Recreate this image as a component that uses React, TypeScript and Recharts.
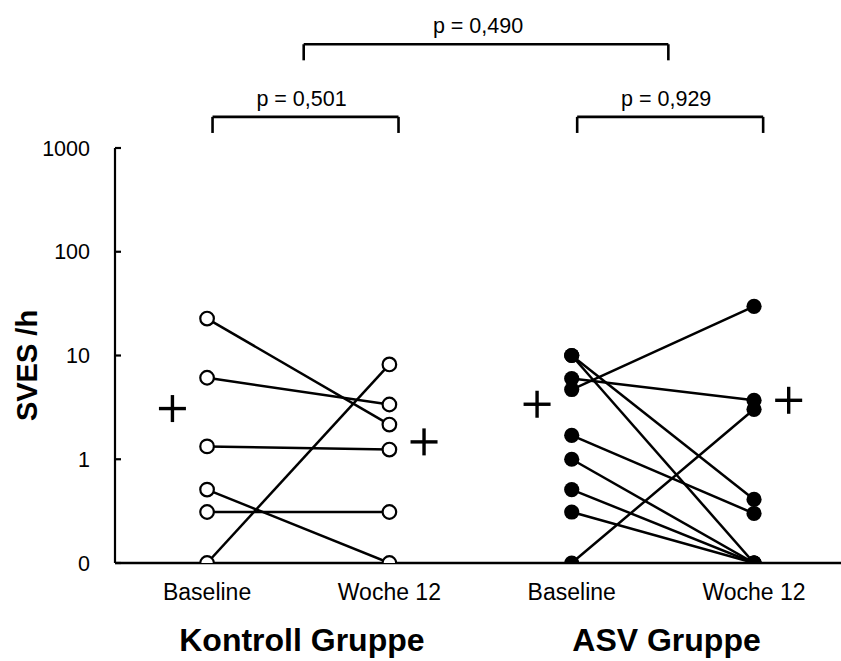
import { ComposedChart, Line, Scatter, XAxis, YAxis, ReferenceLine } from 'recharts';

// x positions of the four time points (Kontroll: 1-2, ASV: 3-4)
const timepoints = [1, 2, 3, 4];
const timepointLabels = ['Baseline', 'Woche 12', 'Baseline', 'Woche 12'];
const groupNames = ['Kontroll Gruppe', 'ASV Gruppe'];

// SVES per hour, one entry per patient (0 is drawn on the "0" line)
const kontrollBaseline = [22.7, 6.1, 1.33, 0.51, 0.31, 0];
const kontrollWoche12 = [2.16, 3.37, 1.24, 0, 0.31, 8.2];
const asvBaseline = [10, 10, 6.0, 4.7, 1.7, 1.0, 0.51, 0.31, 0];
const asvWoche12 = [0.41, 0, 3.7, 29.8, 0.3, 0, 0, 0, 3.03];

// group means (the "+" markers)
const kontrollMean = [3.08, 1.47];
const asvMean = [3.39, 3.7];

const yTickValues = [0, 1, 10, 100, 1000];

const comparisons = [
  { from: 1, to: 2, label: 'p = 0,501', level: 0 },
  { from: 3, to: 4, label: 'p = 0,929', level: 0 },
  { from: 1.5, to: 3.5, label: 'p = 0,490', level: 1 },
];

// log axis where 0 sits one decade below 1
const toLog = (v: number) => (v > 0 ? Math.log10(v) : -1);
const fromLog = (l: number) => (l <= -1 ? '0' : String(Math.round(Math.pow(10, l))));

const MEAN_OFFSET = 0.19;
const bracketLevels = [3.3, 4.0];
const bracketDrop = 0.155;

const pairs = (base: number[], week: number[], xb: number, xw: number) =>
  base.map((b, i) => [
    { x: xb, y: toLog(b) },
    { x: xw, y: toLog(week[i]) },
  ]);

const points = (vals: number[], x: number) => vals.map((v) => ({ x, y: toLog(v) }));

const kontrollLines = pairs(kontrollBaseline, kontrollWoche12, timepoints[0], timepoints[1]);
const asvLines = pairs(asvBaseline, asvWoche12, timepoints[2], timepoints[3]);

const meanPoints = [
  { x: timepoints[0] - MEAN_OFFSET, y: toLog(kontrollMean[0]) },
  { x: timepoints[1] + MEAN_OFFSET, y: toLog(kontrollMean[1]) },
  { x: timepoints[2] - MEAN_OFFSET, y: toLog(asvMean[0]) },
  { x: timepoints[3] + MEAN_OFFSET, y: toLog(asvMean[1]) },
];

const OpenCircle = ({ cx, cy }: any) => (
  <circle cx={cx} cy={cy} r={6.8} fill="#fff" stroke="#000" strokeWidth={2.2} />
);

const FilledCircle = ({ cx, cy }: any) => <circle cx={cx} cy={cy} r={7.6} fill="#000" />;

const PlusShape = ({ cx, cy }: any) => (
  <g stroke="#000" strokeWidth={3.4}>
    <line x1={cx - 13.5} x2={cx + 13.5} y1={cy} y2={cy} />
    <line x1={cx} x2={cx} y1={cy - 13.5} y2={cy + 13.5} />
  </g>
);

const XTick = ({ x, y, payload }: any) => (
  <text x={x} y={y + 37} textAnchor="middle" fontSize={23} fill="#000">
    {timepointLabels[timepoints.indexOf(payload.value)]}
  </text>
);

const YTick = ({ x, y, payload }: any) => (
  <g>
    <line x1={x} x2={x + 6} y1={y} y2={y} stroke="#000" strokeWidth={2.2} />
    <text x={x - 25} y={y} dy="0.36em" textAnchor="end" fontSize={21.5} fill="#000">
      {fromLog(payload.value)}
    </text>
  </g>
);

const YTitle = ({ viewBox }: any) => {
  const vb = viewBox || { x: 0, y: 0, width: 0, height: 0 };
  const cx = vb.x + 27;
  const cy = vb.y + vb.height / 2 + 10;
  return (
    <text
      x={cx}
      y={cy}
      transform={`rotate(-90 ${cx} ${cy})`}
      textAnchor="middle"
      dominantBaseline="central"
      fontSize={29}
      fontWeight="bold"
      fill="#000"
    >
      SVES /h
    </text>
  );
};

export default function App() {
  return (
    <div style={{ position: 'absolute', left: 0, top: 0, fontFamily: '"Liberation Sans", Arial, sans-serif' }}>
      <ComposedChart width={841} height={661} margin={{ top: 148, right: 0, bottom: 0, left: 0 }}>
        <XAxis
          type="number"
          dataKey="x"
          domain={[0.495, 4.477]}
          ticks={timepoints}
          interval={0}
          allowDataOverflow
          tick={<XTick />}
          tickLine={false}
          tickSize={0}
          tickMargin={0}
          height={98}
          axisLine={{ stroke: '#000', strokeWidth: 2.5 }}
        />
        <YAxis
          type="number"
          dataKey="y"
          domain={[-1, 3]}
          ticks={yTickValues.map(toLog)}
          interval={0}
          allowDataOverflow
          width={115}
          tick={<YTick />}
          tickLine={false}
          tickSize={0}
          tickMargin={0}
          axisLine={{ stroke: '#000', strokeWidth: 2.2 }}
          label={<YTitle />}
        />

        {[...kontrollLines, ...asvLines].map((d, i) => (
          <Line
            key={`l${i}`}
            data={d}
            dataKey="y"
            type="linear"
            stroke="#000"
            strokeWidth={2.5}
            dot={false}
            activeDot={false}
            isAnimationActive={false}
          />
        ))}

        <Scatter data={points(kontrollBaseline, timepoints[0])} dataKey="y" shape={<OpenCircle />} isAnimationActive={false} />
        <Scatter data={points(kontrollWoche12, timepoints[1])} dataKey="y" shape={<OpenCircle />} isAnimationActive={false} />
        <Scatter data={points(asvBaseline, timepoints[2])} dataKey="y" shape={<FilledCircle />} isAnimationActive={false} />
        <Scatter data={points(asvWoche12, timepoints[3])} dataKey="y" shape={<FilledCircle />} isAnimationActive={false} />
        <Scatter data={meanPoints} dataKey="y" shape={<PlusShape />} isAnimationActive={false} />

        {groupNames.map((name, i) => (
          <ReferenceLine
            key={name}
            x={(timepoints[i * 2] + timepoints[i * 2 + 1]) / 2 + 0.02}
            stroke="none"
            ifOverflow="visible"
            label={{ value: name, position: 'bottom', offset: 65, fontSize: 32, fontWeight: 'bold', fill: '#000' }}
          />
        ))}

        {comparisons.map((c) => {
          const x1 = c.from + 0.03;
          const x2 = c.to + (c.level === 0 ? 0.05 : 0.03);
          const top = bracketLevels[c.level];
          const bottom = top - bracketDrop;
          return [
            <ReferenceLine
              key={`${c.label}-h`}
              segment={[{ x: x1, y: top }, { x: x2, y: top }]}
              stroke="#000"
              strokeWidth={2.6}
              ifOverflow="visible"
              label={{ value: c.label, position: 'top', offset: 11, fontSize: 21.5, fill: '#000', dx: c.level === 1 ? -8 : -4 }}
            />,
            <ReferenceLine
              key={`${c.label}-l`}
              segment={[{ x: x1, y: top }, { x: x1, y: bottom }]}
              stroke="#000"
              strokeWidth={2.6}
              ifOverflow="visible"
            />,
            <ReferenceLine
              key={`${c.label}-r`}
              segment={[{ x: x2, y: top }, { x: x2, y: bottom }]}
              stroke="#000"
              strokeWidth={2.6}
              ifOverflow="visible"
            />,
          ];
        })}
      </ComposedChart>
    </div>
  );
}
